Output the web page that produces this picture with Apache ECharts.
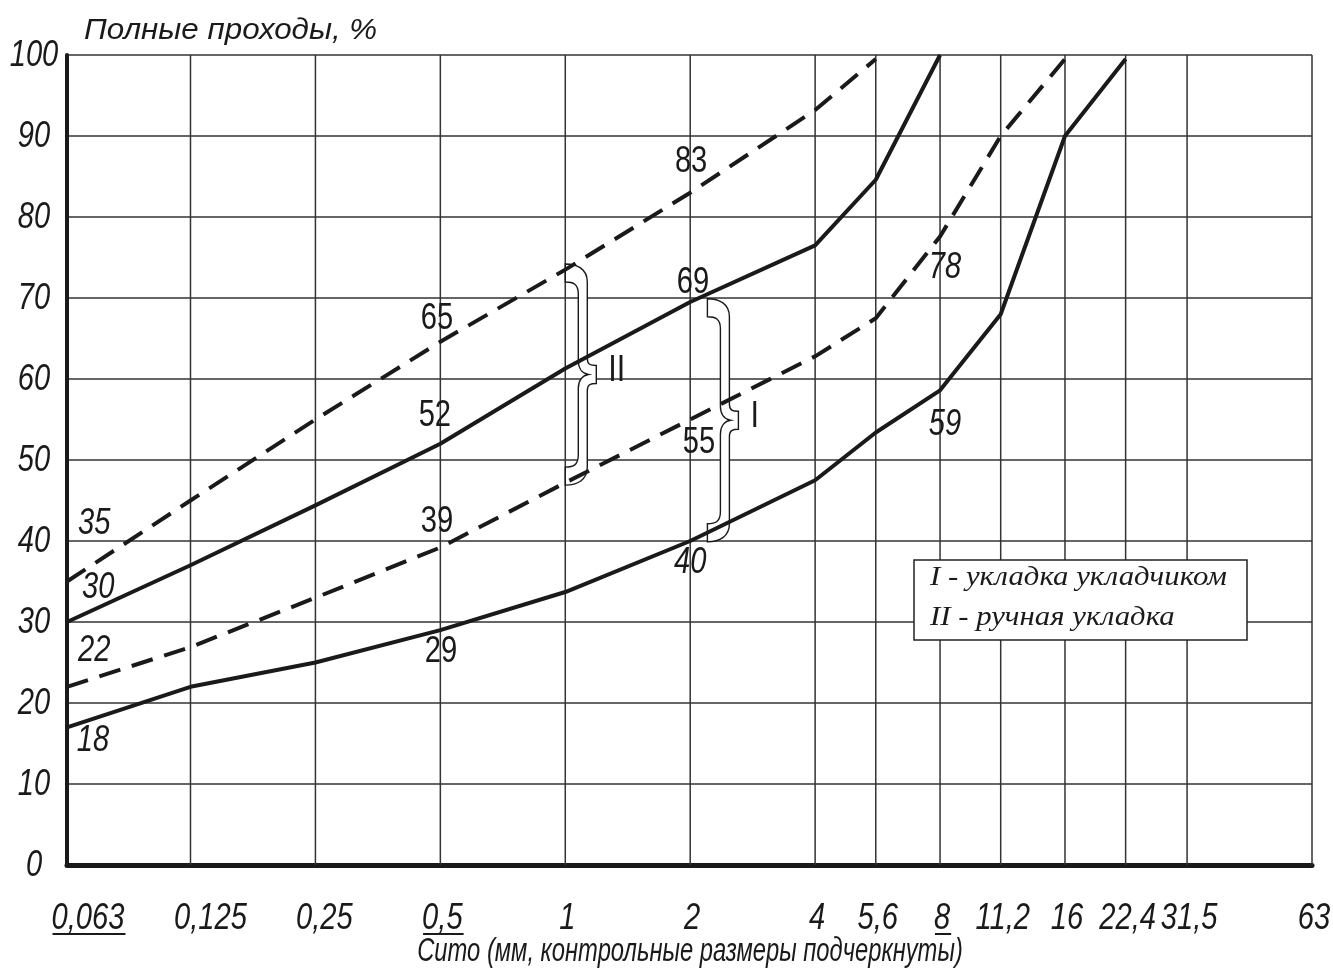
<!DOCTYPE html>
<html><head><meta charset="utf-8">
<script src="https://cdn.jsdelivr.net/npm/echarts@6/dist/echarts.min.js"></script>
<style>html,body{margin:0;padding:0;background:#fff}#c{width:1333px;height:976px}</style>
</head><body><div id="c"></div>
<script>
// ---- data ----
const sieves = [0.063, 0.125, 0.25, 0.5, 1, 2, 4, 5.6, 8, 11.2, 16, 22.4, 31.5, 63];
const sieveLabels = ['0,063', '0,125', '0,25', '0,5', '1', '2', '4', '5,6', '8', '11,2', '16', '22,4', '31,5', '63'];
const controlSieves = [0.063, 0.5, 8];
const yTicks = [0, 10, 20, 30, 40, 50, 60, 70, 80, 90, 100];

const upperDashedX = [0.063, 0.125, 0.25, 0.5, 1, 2, 4, 5.6];
const upperDashedY = [35, 45, 55, 64.6, 73.5, 83, 93.2, 99.5];
const upperSolidX = [0.063, 0.125, 0.25, 0.5, 1, 2, 4, 5.6, 8];
const upperSolidY = [30, 37, 44.4, 52, 61.3, 69.5, 76.5, 84.6, 100];
const lowerDashedX = [0.063, 0.125, 0.25, 0.5, 1, 2, 4, 5.6, 8, 11.2, 16];
const lowerDashedY = [22, 26.9, 33, 39.2, 47.2, 55, 62.8, 67.5, 77.6, 90, 99.5];
const lowerSolidX = [0.063, 0.125, 0.25, 0.5, 1, 2, 4, 5.6, 8, 11.2, 16, 22.4];
const lowerSolidY = [17, 22, 25, 29, 33.7, 40, 47.5, 53.4, 58.6, 68, 90, 99.5];

const annotText = ['35', '30', '22', '18', '65', '52', '39', '29', '83', '69', '55', '40', '78', '59'];
const annotX = [0.0733, 0.0749, 0.0733, 0.0728, 0.491, 0.485, 0.491, 0.502, 2.01, 2.03, 2.10, 2.0, 8.22, 8.22];
const annotY = [42.1, 34.2, 26.4, 15.3, 67.4, 55.4, 42.3, 26.3, 86.8, 71.9, 52.1, 37.3, 73.7, 54.3];
const annotItalic = [1, 1, 1, 1, 0, 0, 0, 0, 0, 0, 0, 1, 1, 1];

const braceNames = ['II', 'I'];
const braceX = [1, 2.2];
const braceTop = [74.2, 69.9];
const braceBottom = [46.9, 39.9];

const legendLines = ['I - укладка укладчиком', 'II - ручная укладка'];
const titleText = 'Полные проходы, %';
const xNameText = 'Сито (мм, контрольные размеры подчеркнуты)';

// ---- layout / style ----
const INK = '#1a1a1a';
const GRIDC = '#333';
const SANS = '"Liberation Sans", Arial, sans-serif';
const SERIF = '"Liberation Serif", "Times New Roman", serif';
const TICK_FS = 36, TICK_SX = 0.81;
const xLabelShift = {0.063: 21, 0.125: 20, 0.25: 9};

const mctx = document.createElement('canvas').getContext('2d');
function measure(t, font) { mctx.font = font; return mctx.measureText(t).width; }

function bracePath(x0, y0, H) {
  const m = H / 2;
  const P = (x, y) => (x0 + x).toFixed(1) + ',' + (y0 + y).toFixed(1);
  return 'M' + P(0, 0) +
    ' C' + P(12, 0) + ' ' + P(22, 5) + ' ' + P(22, 18) +
    ' L' + P(22, m - 16) +
    ' C' + P(22, m - 10) + ' ' + P(25, m - 9) + ' ' + P(31, m - 9) +
    ' L' + P(31, m + 9) +
    ' C' + P(25, m + 9) + ' ' + P(22, m + 10) + ' ' + P(22, m + 16) +
    ' L' + P(22, H - 18) +
    ' C' + P(22, H - 5) + ' ' + P(12, H) + ' ' + P(0, H) +
    ' L' + P(0, H - 18) +
    ' C' + P(8, H - 18) + ' ' + P(13, H - 20) + ' ' + P(13, H - 30) +
    ' L' + P(13, m + 14) +
    ' C' + P(13, m + 6) + ' ' + P(17, m + 1) + ' ' + P(23, m) +
    ' C' + P(17, m - 1) + ' ' + P(13, m - 6) + ' ' + P(13, m - 14) +
    ' L' + P(13, 30) +
    ' C' + P(13, 20) + ' ' + P(8, 18) + ' ' + P(0, 18) + ' Z';
}

function lineSeries(xs, ys, dashed) {
  return {
    type: 'line', z: 3, clip: false, symbol: 'none', showSymbol: false, silent: true,
    data: xs.map((x, i) => [x, ys[i]]),
    lineStyle: { color: INK, width: 4, type: dashed ? [22, 12] : 'solid', cap: 'butt', join: 'round' }
  };
}

const chart = echarts.init(document.getElementById('c'), null, { renderer: 'canvas' });
chart.setOption({
  animation: false,
  backgroundColor: '#fff',
  grid: { left: 67, right: 21, top: 55, bottom: 111, containLabel: false },
  xAxis: {
    type: 'log', logBase: 2, min: sieves[0], max: sieves[sieves.length - 1],
    axisLine: { show: true, lineStyle: { color: INK, width: 5 } },
    axisTick: { show: false }, axisLabel: { show: false }, splitLine: { show: false }
  },
  yAxis: {
    type: 'value', min: 0, max: 100, interval: 10,
    axisLine: { show: true, lineStyle: { color: INK, width: 4 } },
    axisTick: { show: false }, axisLabel: { show: false },
    splitLine: { show: true, lineStyle: { color: GRIDC, width: 1.5 } }
  },
  series: [
    { // vertical grid lines at sieve sizes
      type: 'custom', z: 1, silent: true,
      data: sieves.slice(1).map(v => [v, 0]),
      renderItem: (params, api) => {
        const a = api.coord([api.value(0), 0]);
        const b = api.coord([api.value(0), 100]);
        return { type: 'line', shape: { x1: a[0], y1: a[1], x2: b[0], y2: b[1] }, style: { stroke: GRIDC, lineWidth: 1.5 } };
      }
    },
    { // braces
      type: 'custom', z: 2, silent: true,
      data: braceX.map((x, i) => [x, braceTop[i], braceBottom[i]]),
      encode: { x: 0, y: [1, 2] },
      renderItem: (params, api) => {
        const a = api.coord([api.value(0), api.value(1)]);
        const b = api.coord([api.value(0), api.value(2)]);
        const H = b[1] - a[1];
        return {
          type: 'group', children: [
            { type: 'path', shape: { pathData: bracePath(a[0], a[1], H) }, style: { fill: '#fff', stroke: INK, lineWidth: 1.4 } },
            { type: 'text', x: a[0] + 43, y: a[1] + H / 2 - 3, scaleX: 0.85,
              style: { text: braceNames[params.dataIndex], fontSize: TICK_FS, fontFamily: SANS, fill: INK, align: 'left', verticalAlign: 'middle' } }
          ]
        };
      }
    },
    lineSeries(upperDashedX, upperDashedY, true),
    lineSeries(upperSolidX, upperSolidY, false),
    lineSeries(lowerDashedX, lowerDashedY, true),
    lineSeries(lowerSolidX, lowerSolidY, false),
    { // x tick labels
      type: 'custom', z: 4, silent: true,
      data: sieves.map(v => [v, 0]),
      renderItem: (params, api) => {
        const i = params.dataIndex;
        const p = api.coord([api.value(0), 0]);
        const cx = p[0] + (xLabelShift[sieves[i]] !== undefined ? xLabelShift[sieves[i]] : 2);
        const cy = p[1] + 54;
        const children = [{ type: 'text', x: cx, y: cy, scaleX: TICK_SX,
          style: { text: sieveLabels[i], fontSize: TICK_FS, fontStyle: 'italic', fontFamily: SANS, fill: INK, align: 'center', verticalAlign: 'middle' } }];
        if (controlSieves.indexOf(sieves[i]) >= 0) {
          const w = measure(sieveLabels[i], 'italic ' + TICK_FS + 'px ' + SANS) * TICK_SX;
          children.push({ type: 'line', shape: { x1: cx - w / 2 + 1, y1: cy + 15, x2: cx + w / 2 + 1, y2: cy + 15 }, style: { stroke: INK, lineWidth: 2 } });
        }
        return { type: 'group', children };
      }
    },
    { // y tick labels
      type: 'custom', z: 4, silent: true,
      data: yTicks.map(v => [sieves[0], v]),
      renderItem: (params, api) => {
        const p = api.coord([api.value(0), api.value(1)]);
        return { type: 'text', x: p[0] - 33, y: p[1] + 1, scaleX: TICK_SX,
          style: { text: String(yTicks[params.dataIndex]), fontSize: TICK_FS, fontStyle: 'italic', fontFamily: SANS, fill: INK, align: 'center', verticalAlign: 'middle' } };
      }
    },
    { // value annotations
      type: 'custom', z: 4, silent: true,
      data: annotX.map((x, i) => [x, annotY[i]]),
      renderItem: (params, api) => {
        const i = params.dataIndex;
        const p = api.coord([api.value(0), api.value(1)]);
        return { type: 'text', x: p[0], y: p[1], scaleX: TICK_SX,
          style: { text: annotText[i], fontSize: TICK_FS, fontStyle: annotItalic[i] ? 'italic' : 'normal', fontFamily: SANS, fill: INK, align: 'center', verticalAlign: 'middle' } };
      }
    }
  ],
  graphic: [
    { type: 'text', x: 84, y: 31, scaleX: 1.08, z: 100,
      style: { text: titleText, font: 'italic 29px ' + SANS, fill: INK, textAlign: 'left', textVerticalAlign: 'middle' } },
    { type: 'text', x: 690, y: 952, scaleX: 0.72, z: 100,
      style: { text: xNameText, font: 'italic 33px ' + SANS, fill: INK, textAlign: 'center', textVerticalAlign: 'middle' } },
    { type: 'rect', z: 100, shape: { x: 914, y: 560, width: 333, height: 80 }, style: { fill: '#fff', stroke: '#222', lineWidth: 1.5 } },
    { type: 'text', x: 930, y: 578, scaleX: 1.1, z: 101,
      style: { text: legendLines[0], font: 'italic 28px ' + SERIF, fill: INK, textAlign: 'left', textVerticalAlign: 'middle' } },
    { type: 'text', x: 930, y: 618, scaleX: 1.1, z: 101,
      style: { text: legendLines[1], font: 'italic 28px ' + SERIF, fill: INK, textAlign: 'left', textVerticalAlign: 'middle' } }
  ]
});
</script></body></html>
